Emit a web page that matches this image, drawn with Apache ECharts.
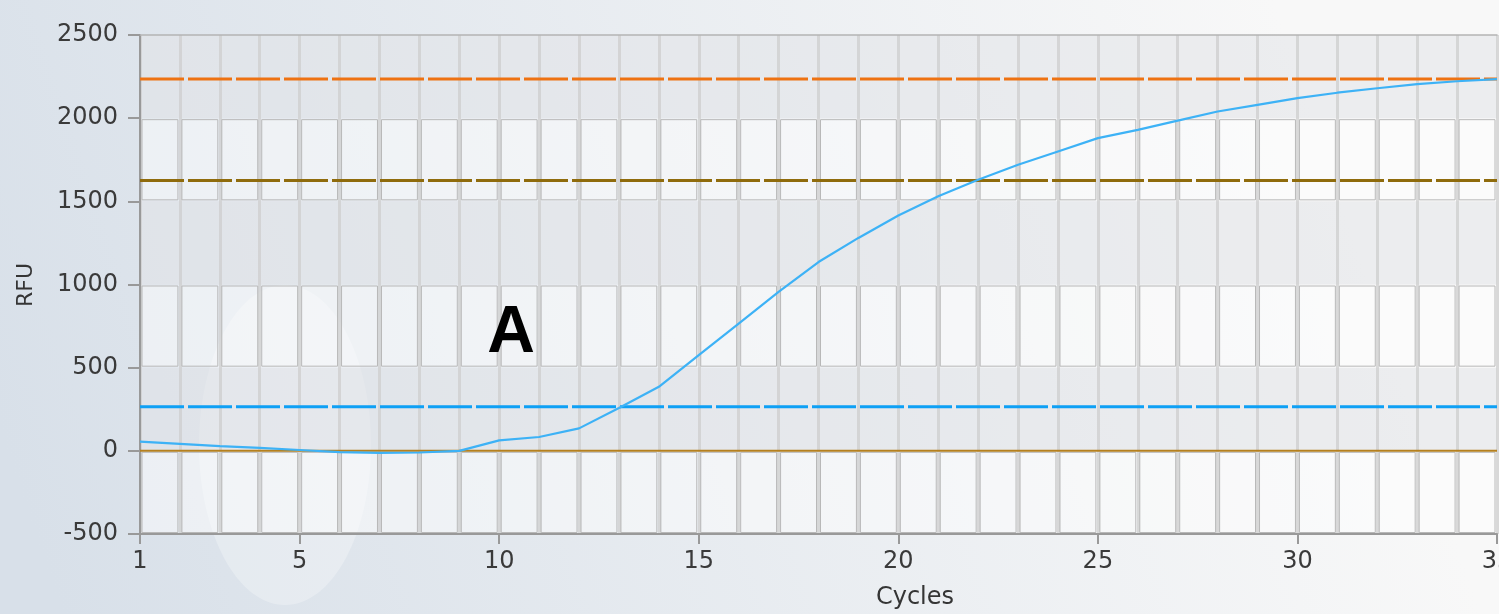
<!DOCTYPE html>
<html><head><meta charset="utf-8">
<script src="https://cdn.jsdelivr.net/npm/echarts@6/dist/echarts.min.js"></script>
<style>html,body{margin:0;padding:0;}#c{width:1499px;height:614px;}</style>
</head><body><div id="c"></div>
<script>
// ---- data ----
const cycles = [1,2,3,4,5,6,7,8,9,10,11,12,13,14,15,16,17,18,19,20,21,22,23,24,25,26,27,28,29,30,31,32,33,34,35];
const rfu = [55,42,28,18,5,-8,-12,-10,0,63,83,135,258,385,575,765,955,1135,1280,1415,1530,1630,1720,1800,1880,1930,1985,2040,2080,2120,2153,2180,2205,2222,2235];
const xTickLabels = [1,5,10,15,20,25,30,35];
const yTickLabels = [-500,0,500,1000,1500,2000,2500];
const thresholdOrange = 2235;
const thresholdOlive = 1625;
const thresholdBlue = 265;
const baseline = 0;
const lightBands = [[-500,0],[500,1000],[1500,2000]];

const chart = echarts.init(document.getElementById('c'));
const xMin = cycles[0], xMax = cycles[cycles.length-1];
const flat = v => [[xMin, v],[xMax, v]];
const boxes = [];
for (let i = 0; i < cycles.length-1; i++) for (const b of lightBands) boxes.push([cycles[i], b[0], b[1]]);
const font = 'DejaVu Sans';
const option = {
  animation: false,
  backgroundColor: {type:'linear', x:0, y:0.7, x2:0.85, y2:0, colorStops:[{offset:0,color:'#d8e0e9'},{offset:1,color:'#f8f8f8'}]},
  grid: {left:140, right:2, top:35, bottom:80, containLabel:false, outerBoundsMode:'none'},
  graphic: [
    {type:'ellipse', z:-10, shape:{cx:285, cy:445, rx:86, ry:160}, style:{fill:'rgba(255,255,255,0.28)'}, silent:true},
    {type:'text', x:511, y:334, style:{text:'A', x:0, y:0, align:'center', verticalAlign:'middle', font:'bold 66px "Liberation Sans", Arial', fill:'#000'}, z:50},
    {type:'text', x:915, y:598, style:{text:'Cycles', x:0, y:0, align:'center', verticalAlign:'middle', font:'24px "DejaVu Sans"', fill:'#353535'}, z:50},
    {type:'text', rotation:Math.PI/2, x:26, y:285, style:{text:'RFU', x:0, y:0, align:'center', verticalAlign:'middle', font:'22px "DejaVu Sans"', fill:'#353535'}, z:50}
  ],
  xAxis: [
    {type:'value', min:xMin, max:xMax, interval:1, position:'bottom',
     axisLine:{show:true, onZero:false, lineStyle:{color:'#999999', width:2}},
     axisTick:{show:false}, axisLabel:{show:false},
     splitLine:{show:true, lineStyle:{color:'rgba(205,205,205,0.75)', width:3}}},
    {type:'value', min:xMin, max:xMax, position:'bottom',
     axisLine:{show:false, onZero:false},
     axisTick:{show:true, length:10, customValues:xTickLabels, lineStyle:{color:'#999999', width:2}},
     axisLabel:{show:true, customValues:xTickLabels, margin:16, color:'#3a3a3a', fontFamily:font, fontSize:24, formatter: v => String(v), hideOverlap:false},
     splitLine:{show:false}},
    {type:'value', min:xMin, max:xMax, position:'top',
     axisLine:{show:true, onZero:false, lineStyle:{color:'#b4b4b4', width:1.5}},
     axisTick:{show:false}, axisLabel:{show:false}, splitLine:{show:false}}
  ],
  yAxis: {type:'value', min:-500, max:2500, interval:500,
    axisLine:{show:true, onZero:false, lineStyle:{color:'#999999', width:2}},
    axisTick:{show:true, length:12, lineStyle:{color:'#999999', width:2}},
    axisLabel:{margin:22, color:'#3a3a3a', fontFamily:font, fontSize:24, customValues:yTickLabels, formatter: v => String(v)},
    splitLine:{show:false},
    splitArea:{show:true, areaStyle:{color:['rgba(255,255,255,0.25)','rgba(225,227,231,0.55)']}}
  },
  series: [
    {type:'custom', xAxisIndex:0, silent:true, z:1, clip:true,
     encode:{x:0, y:[1,2]},
     data: boxes,
     renderItem: (params, api) => {
       const p0 = api.coord([api.value(0), api.value(2)]);
       const p1 = api.coord([api.value(0)+1, api.value(1)]);
       return {type:'rect', shape:{x:p0[0]+2, y:p0[1]+1.5, width:p1[0]-p0[0]-4, height:p1[1]-p0[1]-3},
               style:{fill:'rgba(255,255,255,0.3)', stroke:'#b8b8b8', lineWidth:1}};
     }},
    {type:'line', xAxisIndex:0, data:flat(baseline), symbol:'none', z:3, lineStyle:{color:'#b5801f', width:2}},
    {type:'line', xAxisIndex:0, data:flat(thresholdOrange), symbol:'none', z:3, lineStyle:{color:'#ee7212', width:3, type:[44,4]}},
    {type:'line', xAxisIndex:0, data:flat(thresholdOlive), symbol:'none', z:3, lineStyle:{color:'#8f6b0c', width:3, type:[44,4]}},
    {type:'line', xAxisIndex:0, data:flat(thresholdBlue), symbol:'none', z:3, lineStyle:{color:'#0ea0f5', width:3, type:[44,4]}},
    {type:'line', xAxisIndex:0, data:cycles.map((c,i)=>[c, rfu[i]]), symbol:'none', z:4, lineStyle:{color:'#3db2f6', width:2.2}}
  ]
};
chart.setOption(option);
</script></body></html>
